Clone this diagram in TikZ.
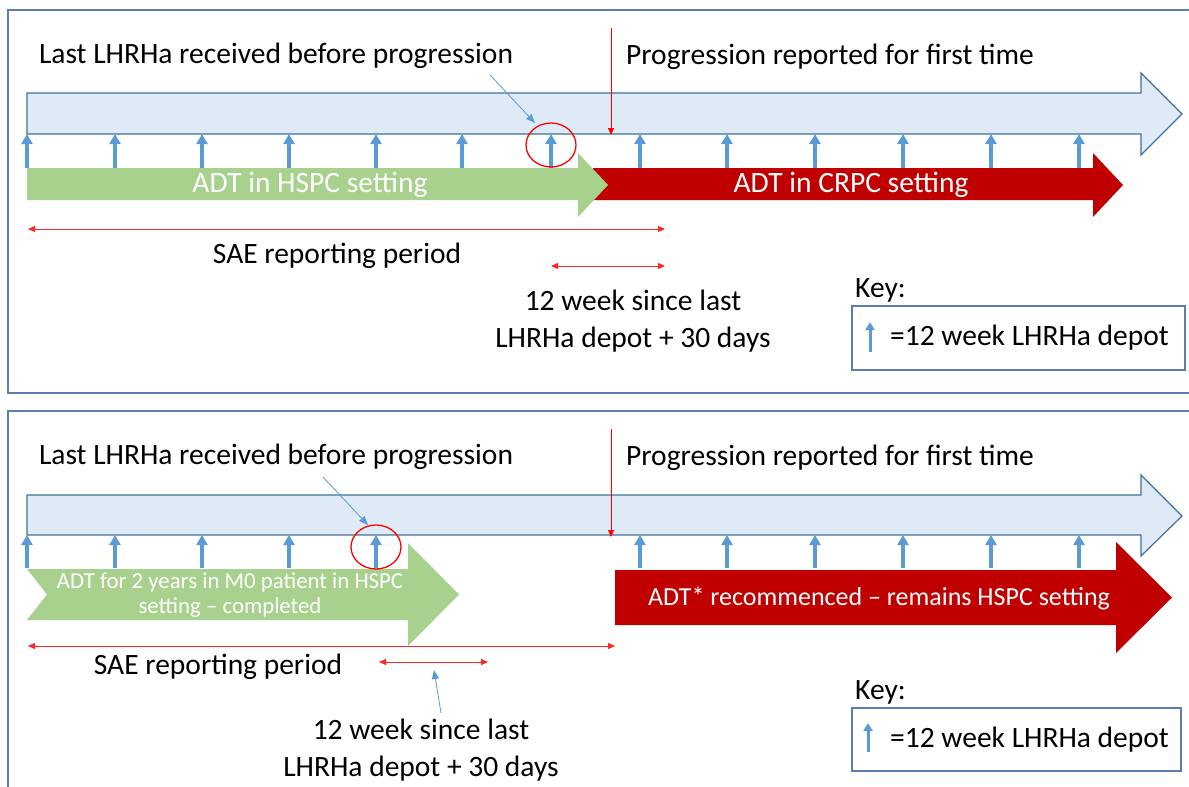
\documentclass[tikz,border=0pt]{standalone}
\usepackage{fontspec}
\setmainfont{Carlito}
\usetikzlibrary{arrows.meta}
\definecolor{frame}{HTML}{5B7DB1}
\definecolor{bluefill}{HTML}{DEEBF7}
\definecolor{blueedge}{HTML}{41719C}
\definecolor{depot}{HTML}{5B9BD5}
\definecolor{greenfill}{HTML}{A9D18E}
\definecolor{darkred}{HTML}{C00000}
\begin{document}
\begin{tikzpicture}[x=1pt,y=-1pt,
  panel/.style={draw=frame,line width=1.5pt},
  timeline/.style={fill=bluefill,draw=blueedge,line width=1.2pt},
  greenarrow/.style={fill=greenfill,draw=none},
  redarrow/.style={fill=darkred,draw=none},
  depotarrow/.style={draw=depot,line width=3.2pt,-{Triangle[width=11pt,length=10pt]}},
  redline/.style={draw=red,line width=0.8pt,-{Triangle[width=6pt,length=7pt]}},
  spanline/.style={draw=red!85,line width=0.8pt,{Triangle[width=6pt,length=7pt]}-{Triangle[width=6pt,length=7pt]}},
  pointer/.style={draw=depot,line width=0.8pt,-{Triangle[width=7pt,length=9pt]}},
  lbl/.style={font=\fontsize{29.5}{37}\selectfont,text=black,inner sep=0pt},
  wlbl/.style={font=\fontsize{29.5}{37}\selectfont,text=white,inner sep=0pt},
  ring/.style={draw=red,line width=1.3pt},
  keybox/.style={draw=frame,line width=1.3pt}]
\useasboundingbox (0,0) rectangle (1189,787);
\fill[white] (0,0) rectangle (1189,787);

% ===== panels =====
\draw[panel] (8,10) rectangle (1200,393);
\draw[panel] (8,411) rectangle (1200,800);

% ===== TOP PANEL =====
\filldraw[timeline] (27,93) -- (1141,93) -- (1141,73) -- (1182,114) -- (1141,155) -- (1141,134) -- (27,134) -- cycle;
\foreach \x [count=\i] in {27,115,202,289,376,462,551,640,727,815,903,991,1079} {
  \coordinate (ta\i) at (\x,168);
  \coordinate (tb\i) at (\x,134);
  \draw[depotarrow] (ta\i) -- (tb\i);
}
\fill[redarrow] (593,168) -- (1093,168) -- (1093,153) -- (1123,185) -- (1093,217) -- (1093,200) -- (593,200) -- cycle;
\fill[greenarrow] (27,168) -- (578,168) -- (578,153) -- (608,185) -- (578,217) -- (578,200) -- (27,200) -- cycle;
\node[wlbl] (tgreen) at (310,185) {ADT in HSPC setting};
\node[wlbl] (tred) at (851,185) {ADT in CRPC setting};
\draw[ring] (551,145) ellipse [x radius=25, y radius=22];

\node[lbl] (tlast) at (276,56) {Last LHRHa received before progression};
\node[lbl] (tprog) at (830,57) {Progression reported for first time};
\coordinate (tp1) at (490,75); \coordinate (tp2) at (535,123);
\draw[pointer] (tp1) -- (tp2);
\coordinate (tr1) at (611,28); \coordinate (tr2) at (611,135);
\draw[redline] (tr1) -- (tr2);

\coordinate (ts1) at (28,229); \coordinate (ts2) at (665,229);
\draw[spanline] (ts1) -- (ts2);
\node[lbl] (tsae) at (337,256) {SAE reporting period};
\coordinate (tw1) at (551,266); \coordinate (tw2) at (665,266);
\draw[spanline] (tw1) -- (tw2);
\node[lbl,align=center] (tweek) at (633,321) {12 week since last\\LHRHa depot + 30 days};

\node[lbl,anchor=west] (tkey) at (855,290) {Key:};
\draw[keybox] (852,306) rectangle (1185,370);
\coordinate (tk1) at (870,352); \coordinate (tk2) at (870,322);
\draw[draw=depot,line width=3pt,-{Triangle[width=9pt,length=8pt]}] (tk1) -- (tk2);
\node[lbl,anchor=west] (tkeytxt) at (890,338) {=12 week LHRHa depot};

% ===== BOTTOM PANEL =====
\filldraw[timeline] (27,495) -- (1141,495) -- (1141,475) -- (1182,516) -- (1141,556) -- (1141,535) -- (27,535) -- cycle;
\foreach \x [count=\i] in {27,115,202,289,376,640,727,815,903,991,1079} {
  \coordinate (ba\i) at (\x,568);
  \coordinate (bb\i) at (\x,535);
  \draw[depotarrow] (ba\i) -- (bb\i);
}
\fill[greenarrow] (27,569) -- (408,569) -- (408,543) -- (459,594.5) -- (408,646) -- (408,620) -- (27,620) -- (47,594.5) -- cycle;
\fill[redarrow] (615,570) -- (1116,570) -- (1116,542) -- (1172,597.5) -- (1116,653) -- (1116,625) -- (615,625) -- cycle;
\node[font=\fontsize{22.8}{25}\selectfont,text=white,inner sep=0pt,align=center] (bgreen) at (230,595) {ADT for 2 years in M0 patient in HSPC\\setting -- completed};
\node[font=\fontsize{26}{31}\selectfont,text=white,inner sep=0pt] (bred) at (879,598) {ADT* recommenced -- remains HSPC setting};
\draw[ring] (376,547) ellipse [x radius=25, y radius=22];

\node[lbl] (blast) at (276,457) {Last LHRHa received before progression};
\node[lbl] (bprog) at (830,458) {Progression reported for first time};
\coordinate (bp1) at (323,477); \coordinate (bp2) at (368,525);
\draw[pointer] (bp1) -- (bp2);
\coordinate (br1) at (611,429); \coordinate (br2) at (611,537);
\draw[redline] (br1) -- (br2);

\coordinate (bs1) at (28,646); \coordinate (bs2) at (615,646);
\draw[spanline] (bs1) -- (bs2);
\node[lbl] (bsae) at (218,667) {SAE reporting period};
\coordinate (bw1) at (379,662); \coordinate (bw2) at (488,662);
\draw[spanline] (bw1) -- (bw2);
\coordinate (bq1) at (441,713); \coordinate (bq2) at (434,670);
\draw[pointer] (bq1) -- (bq2);
\node[lbl,align=center] (bweek) at (421,750) {12 week since last\\LHRHa depot + 30 days};

\node[lbl,anchor=west] (bkey) at (855,692) {Key:};
\draw[keybox] (852,708) rectangle (1181,771);
\coordinate (bk1) at (868,752); \coordinate (bk2) at (868,723);
\draw[draw=depot,line width=3pt,-{Triangle[width=9pt,length=8pt]}] (bk1) -- (bk2);
\node[lbl,anchor=west] (bkeytxt) at (890,740) {=12 week LHRHa depot};
\end{tikzpicture}
\end{document}
